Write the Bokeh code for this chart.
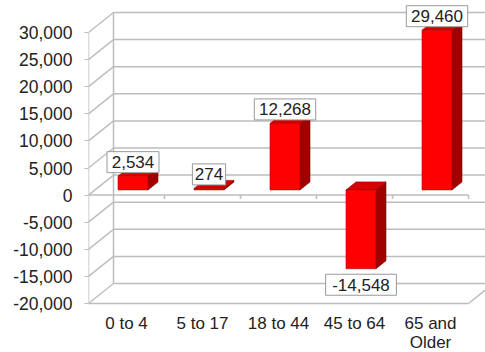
from bokeh.plotting import figure
from bokeh.models import (Range1d, FixedTicker, NumeralTickFormatter, LinearAxis,
                          ColumnDataSource, LabelSet)
from bokeh.core.properties import value
from bokeh.embed import file_html
from bokeh.resources import INLINE

# ---- data ----
categories = ["0 to 4", "5 to 17", "18 to 44", "45 to 64", "65 and\nOlder"]
values = [2534, 274, 12268, -14548, 29460]
y_ticks = [-20000, -15000, -10000, -5000, 0, 5000, 10000, 15000, 20000, 25000, 30000]

# ---- geometry (pixel -> data helpers) ----
W, H = 485, 352
LEFT = 88
PX_Y = 50000 / 271.0          # value units per pixel
PX_X = 1 / 76.0               # category units per pixel


def ypx(px):
    """value whose screen row is px (top of frame = 0)"""
    return y_ticks[-1] + (32 - px) * PX_Y


y_start = ypx(H)
y_end = ypx(0)
x_start = -0.5
x_end = x_start + (W - LEFT) * PX_X

DX = 25 * PX_X                # 3-D depth offset
DY = 20 * PX_Y
F0 = 0.26                     # bar depth position
T = 0.40                      # bar depth thickness
HW = 15 * PX_X                # half front width

GRID = "#BDBDBD"
FONT = "Liberation Sans"
TXT = "#222222"

p = figure(width=W, height=H, output_backend="svg", toolbar_location=None,
           x_range=Range1d(x_start, x_end), y_range=Range1d(y_start, y_end),
           x_axis_location=None, y_axis_location=None)
p.min_border = 0
p.min_border_left = LEFT
p.min_border_bottom = 0
p.min_border_top = 0
p.min_border_right = 0
p.outline_line_color = None
p.xgrid.visible = False
p.ygrid.visible = False
p.background_fill_color = "white"
p.border_fill_color = "white"

# ---- walls / grid ----
lo, hi = y_ticks[0], y_ticks[-1]
ncat = len(categories)
p.segment(x0=[x_start + DX] * len(y_ticks), y0=[t + DY for t in y_ticks],
          x1=[ncat - 0.5 + DX + 1] * len(y_ticks), y1=[t + DY for t in y_ticks],
          line_color=GRID, line_width=1.5)
p.segment(x0=[x_start] * len(y_ticks), y0=y_ticks,
          x1=[x_start + DX] * len(y_ticks), y1=[t + DY for t in y_ticks],
          line_color=GRID, line_width=1.5)
p.segment(x0=[x_start + DX, x_start], y0=[lo + DY, lo], x1=[x_start + DX, x_start], y1=[hi + DY, hi],
          line_color=GRID, line_width=1.5)
p.segment(x0=[x_start, ncat - 0.5], y0=[lo, lo], x1=[ncat - 0.5, ncat - 0.5 + DX], y1=[lo, lo + DY],
          line_color=GRID, line_width=1.5)
p.segment(x0=[x_start], y0=[0], x1=[ncat - 0.5], y1=[0], line_color=GRID, line_width=1.5)
p.segment(x0=[i + 0.5 for i in range(ncat)], y0=[0] * ncat,
          x1=[i + 0.5 for i in range(ncat)], y1=[-4 * PX_Y] * ncat,
          line_color=GRID, line_width=1.5)

# ---- 3-D bars ----
front_l, front_r, front_b, front_t = [], [], [], []
side_xs, side_ys, top_xs, top_ys = [], [], [], []
for i, v in enumerate(values):
    xc = i + F0 * DX
    base = F0 * DY
    b = min(0, v) + base
    t = max(0, v) + base
    l, r = xc - HW, xc + HW
    front_l.append(l); front_r.append(r); front_b.append(b); front_t.append(t)
    side_xs.append([r, r + T * DX, r + T * DX, r])
    side_ys.append([b, b + T * DY, t + T * DY, t])
    top_xs.append([l, r, r + T * DX, l + T * DX])
    top_ys.append([t, t, t + T * DY, t + T * DY])

p.patches(side_xs, side_ys, fill_color="#A00000", line_color="#7A0000", line_width=0.6)
p.patches(top_xs, top_ys, fill_color="#D80000", line_color="#8A0000", line_width=0.6)
p.quad(left=front_l, right=front_r, bottom=front_b, top=front_t,
       fill_color="#FF0000", line_color="#B00000", line_width=0.6)

# ---- data labels ----
lab_x = [i + F0 * DX for i in range(ncat)]
lab_y = [(v + F0 * DY + 14 * PX_Y) if v >= 0 else (v + F0 * DY - 16 * PX_Y) for v in values]
lab_t = [f"{v:,}" for v in values]
lab_w = [len(s) * 9.4 + 5 for s in lab_t]
src = ColumnDataSource(dict(x=lab_x, y=lab_y, t=lab_t, w=lab_w))
p.rect(x="x", y="y", width="w", height=21, width_units="screen", height_units="screen",
       source=src, fill_color="white", line_color="#999999", line_width=1)
labels = LabelSet(x="x", y="y", text="t", source=src, text_align="center", text_baseline="middle",
                  text_font=value(FONT), text_font_size=value("17px"), text_color=TXT)
p.add_layout(labels)

# ---- category labels (front edge of the floor) ----
cat_src = ColumnDataSource(dict(x=list(range(ncat)), y=[ypx(313)] * ncat, t=categories))
p.text(x="x", y="y", text="t", source=cat_src, text_align="center", text_baseline="top",
       text_font=value(FONT), text_font_size=value("17px"), text_color=TXT, text_line_height=1.05)

# ---- value axis ----
yaxis = LinearAxis(ticker=FixedTicker(ticks=y_ticks), formatter=NumeralTickFormatter(format="0,0"))
yaxis.axis_line_color = None
yaxis.major_tick_line_color = GRID
yaxis.major_tick_out = 4
yaxis.major_tick_in = 0
yaxis.minor_tick_line_color = None
yaxis.major_label_standoff = 12
yaxis.major_label_text_font = FONT
yaxis.major_label_text_font_size = "17.5px"
yaxis.major_label_text_color = TXT
p.add_layout(yaxis, "left")

open("out.html", "w").write(file_html(p, INLINE))
